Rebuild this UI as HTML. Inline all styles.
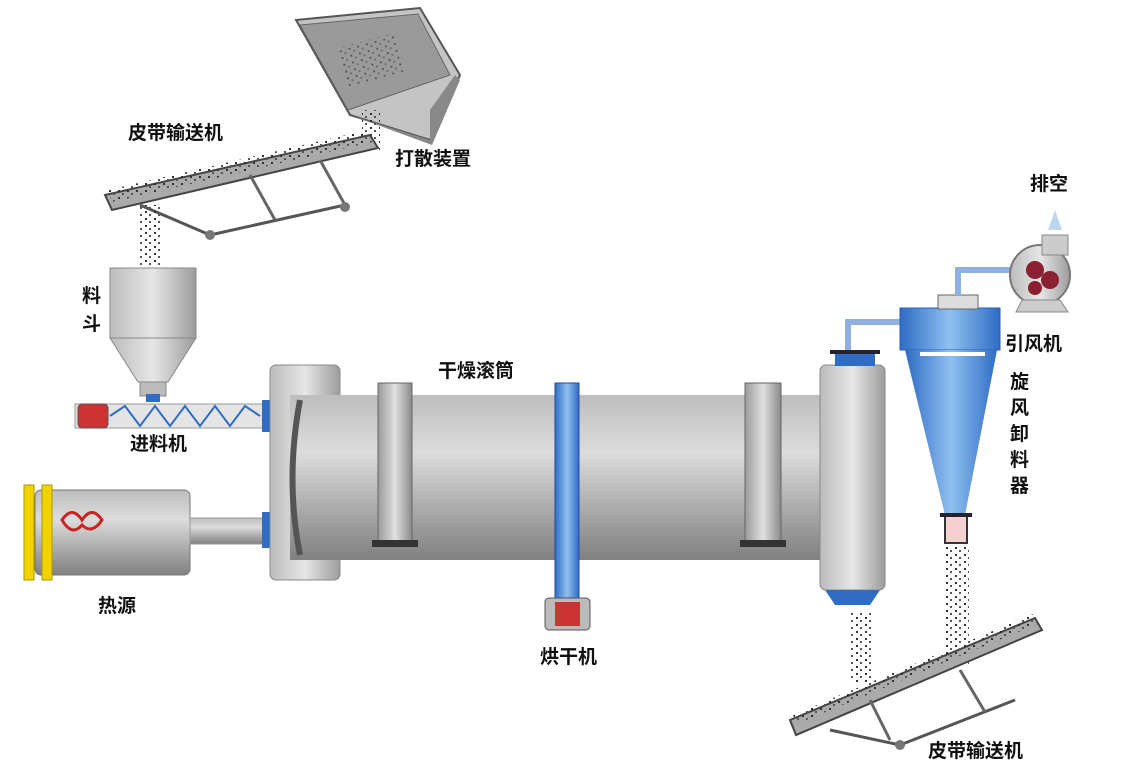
<!DOCTYPE html>
<html><head><meta charset="utf-8"><style>
html,body{margin:0;padding:0;background:#fff;}
svg{display:block}
text{font-family:"Liberation Sans","Noto Sans CJK SC",sans-serif;font-weight:bold;fill:#111;font-size:19px}
</style></head><body>
<svg width="1136" height="769" viewBox="0 0 1136 769" xmlns="http://www.w3.org/2000/svg">
<defs>
<linearGradient id="drum" x1="0" y1="0" x2="0" y2="1">
<stop offset="0" stop-color="#bdbdbd"/><stop offset="0.35" stop-color="#dcdcdc"/><stop offset="0.7" stop-color="#a9a9a9"/><stop offset="1" stop-color="#808080"/></linearGradient>
<linearGradient id="box" x1="0" y1="0" x2="1" y2="0">
<stop offset="0" stop-color="#bcbcbc"/><stop offset="0.5" stop-color="#e6e6e6"/><stop offset="1" stop-color="#9c9c9c"/></linearGradient>
<linearGradient id="ring" x1="0" y1="0" x2="1" y2="0">
<stop offset="0" stop-color="#9a9a9a"/><stop offset="0.5" stop-color="#e0e0e0"/><stop offset="1" stop-color="#8a8a8a"/></linearGradient>
<linearGradient id="blue" x1="0" y1="0" x2="1" y2="0">
<stop offset="0" stop-color="#2f6cc4"/><stop offset="0.5" stop-color="#8fc0f0"/><stop offset="1" stop-color="#2f6cc4"/></linearGradient>
<pattern id="dots" width="9" height="7" patternUnits="userSpaceOnUse">
<rect x="1" y="1" width="2" height="2" fill="#333"/><rect x="5" y="4" width="2" height="2" fill="#555"/></pattern>
</defs>

<polygon points="296,20 420,8 460,75 430,140 350,115" fill="#c4c4c4" stroke="#555" stroke-width="2"/>
<polygon points="300,25 418,14 450,75 348,110" fill="#9a9a9a" stroke="#666"/>
<polygon points="350,115 430,140 430,110 455,75 460,80 432,145" fill="#888"/>
<rect x="340" y="40" width="60" height="40" fill="url(#dots)" opacity="0.6" transform="rotate(-15 370 60)"/>
<rect x="362" y="110" width="18" height="40" fill="url(#dots)"/>

<polygon points="105,195 370,135 378,148 112,210" fill="#aaa" stroke="#444" stroke-width="2"/>
<polygon points="108,190 368,130 372,142 112,202" fill="url(#dots)"/>
<line x1="140" y1="205" x2="210" y2="235" stroke="#555" stroke-width="3"/>
<line x1="210" y1="235" x2="345" y2="205" stroke="#555" stroke-width="3"/>
<line x1="250" y1="175" x2="275" y2="220" stroke="#666" stroke-width="3"/>
<line x1="320" y1="160" x2="345" y2="205" stroke="#666" stroke-width="3"/>
<circle cx="210" cy="235" r="5" fill="#777"/><circle cx="345" cy="207" r="5" fill="#777"/>
<rect x="140" y="205" width="22" height="60" fill="url(#dots)"/>

<rect x="110" y="268" width="86" height="70" fill="url(#box)" stroke="#888"/>
<polygon points="110,338 196,338 168,382 138,382" fill="url(#box)" stroke="#888"/>
<rect x="140" y="382" width="26" height="14" fill="#bbb" stroke="#888"/>
<rect x="146" y="394" width="14" height="8" fill="#2f6cc4"/>

<rect x="75" y="404" width="195" height="24" fill="#e4e4e4" stroke="#999"/>
<polyline points="110,416 125,406 140,426 155,406 170,426 185,406 200,426 215,406 230,426 245,406 260,416" fill="none" stroke="#2f6cc4" stroke-width="2"/>
<rect x="78" y="404" width="30" height="24" rx="4" fill="#c33" stroke="#555"/>
<rect x="262" y="400" width="10" height="32" fill="#2f6cc4"/>

<rect x="35" y="490" width="155" height="85" rx="6" fill="url(#drum)" stroke="#777"/>
<rect x="24" y="485" width="10" height="95" fill="#f2d200" stroke="#a90"/>
<rect x="42" y="485" width="10" height="95" fill="#f2d200" stroke="#a90"/>
<path d="M62,520 q10,-15 20,0 q10,-15 20,0 q-10,15 -20,5 q-10,12 -20,-5z" fill="none" stroke="#c22" stroke-width="3"/>
<rect x="190" y="518" width="75" height="26" fill="url(#drum)" stroke="#999"/>
<rect x="262" y="512" width="10" height="36" fill="#2f6cc4"/>

<rect x="270" y="365" width="70" height="215" rx="6" fill="url(#box)" stroke="#888"/>
<rect x="290" y="395" width="570" height="165" fill="url(#drum)"/>
<path d="M300,400 q-15,80 0,155" stroke="#555" stroke-width="6" fill="none"/>
<path d="M850,400 q15,80 0,155" stroke="#555" stroke-width="6" fill="none"/>
<rect x="820" y="365" width="65" height="225" rx="6" fill="url(#box)" stroke="#888"/>
<polygon points="825,590 880,590 870,605 835,605" fill="#2f6cc4"/>
<rect x="378" y="383" width="34" height="160" fill="url(#ring)" stroke="#666"/>
<rect x="372" y="540" width="46" height="7" fill="#333"/>
<rect x="745" y="383" width="36" height="160" fill="url(#ring)" stroke="#666"/>
<rect x="740" y="540" width="46" height="7" fill="#333"/>
<rect x="555" y="383" width="24" height="215" fill="url(#blue)" stroke="#1f4f99"/>
<rect x="545" y="598" width="45" height="32" rx="4" fill="#bbb" stroke="#555"/>
<rect x="555" y="602" width="25" height="24" fill="#c33"/>

<rect x="835" y="352" width="40" height="14" fill="#2f6cc4"/>
<rect x="830" y="350" width="50" height="4" fill="#223"/>
<polyline points="848,350 848,322 905,322" fill="none" stroke="#8fb0e0" stroke-width="6"/>

<rect x="900" y="308" width="100" height="42" fill="url(#blue)" stroke="#2a5fb0"/>
<rect x="938" y="295" width="40" height="14" fill="#ddd" stroke="#666"/>
<polygon points="905,350 997,350 965,515 945,515" fill="url(#blue)"/>
<rect x="920" y="352" width="65" height="4" fill="#fff"/>
<rect x="945" y="515" width="22" height="28" fill="#f4d0d0" stroke="#333" stroke-width="2"/>
<rect x="940" y="513" width="32" height="4" fill="#223"/>
<polyline points="958,295 958,270 1015,270" fill="none" stroke="#8fb0e0" stroke-width="6"/>

<circle cx="1040" cy="275" r="30" fill="url(#box)" stroke="#777" stroke-width="2"/>
<rect x="1042" y="235" width="26" height="20" fill="#ccc" stroke="#888"/>
<polygon points="1048,230 1055,210 1062,230" fill="#bcd6f0"/>
<circle cx="1035" cy="270" r="9" fill="#8a2030"/><circle cx="1050" cy="280" r="9" fill="#8a2030"/><circle cx="1035" cy="288" r="7" fill="#8a2030"/>
<polygon points="1022,300 1060,300 1068,312 1016,312" fill="#ccc" stroke="#888"/>

<rect x="850" y="612" width="22" height="70" fill="url(#dots)"/>
<rect x="945" y="545" width="24" height="120" fill="url(#dots)"/>

<polygon points="790,720 1035,618 1042,630 796,735" fill="#aaa" stroke="#444" stroke-width="2"/>
<polygon points="793,715 1033,614 1037,624 797,724" fill="url(#dots)"/>
<line x1="830" y1="730" x2="900" y2="745" stroke="#555" stroke-width="3"/>
<line x1="900" y1="745" x2="1015" y2="700" stroke="#555" stroke-width="3"/>
<line x1="960" y1="670" x2="985" y2="712" stroke="#666" stroke-width="3"/>
<line x1="870" y1="700" x2="890" y2="740" stroke="#666" stroke-width="3"/>
<circle cx="900" cy="745" r="5" fill="#777"/>

<text x="128" y="139">皮带输送机</text>
<text x="395" y="165">打散装置</text>
<text x="1030" y="190">排空</text>
<text x="1005" y="350">引风机</text>
<text x="1010" y="388">旋</text><text x="1010" y="414">风</text><text x="1010" y="440">卸</text><text x="1010" y="466">料</text><text x="1010" y="492">器</text>
<text x="438" y="377">干燥滚筒</text>
<text x="82" y="302">料</text><text x="82" y="330">斗</text>
<text x="130" y="450">进料机</text>
<text x="98" y="612">热源</text>
<text x="540" y="663">烘干机</text>
<text x="928" y="757">皮带输送机</text>
</svg>
</body></html>
